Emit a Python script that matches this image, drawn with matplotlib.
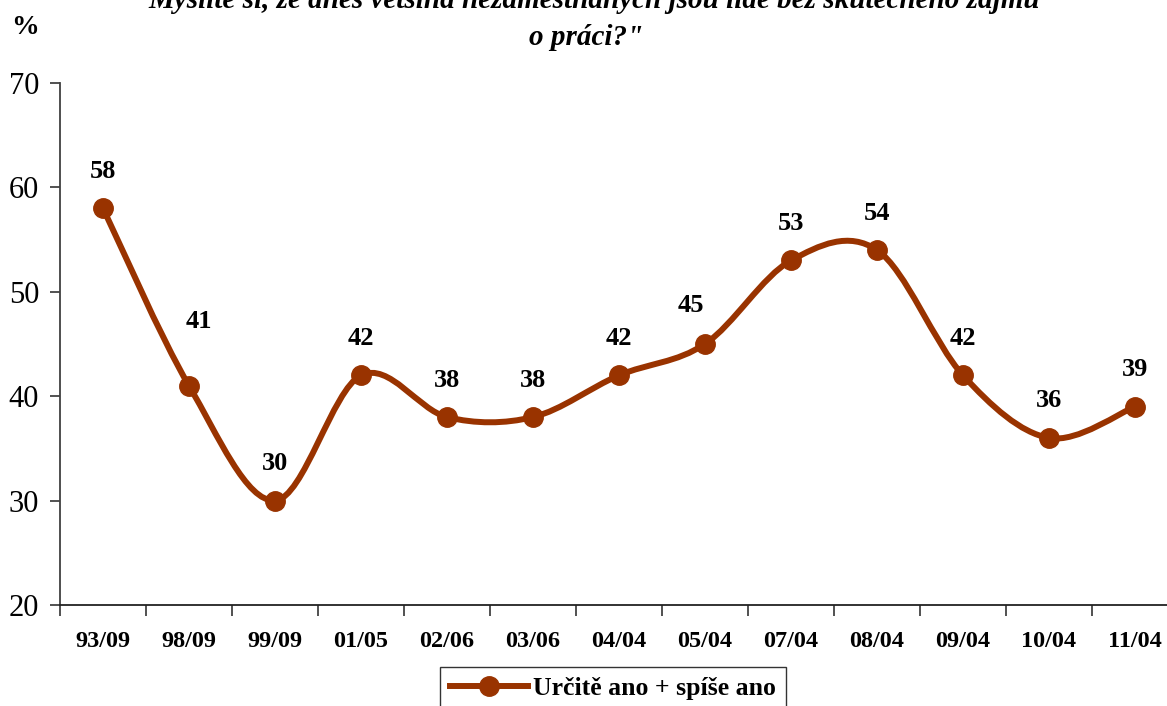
import matplotlib
matplotlib.use("Agg")
import matplotlib.pyplot as plt
from matplotlib.path import Path
from matplotlib.patches import PathPatch
from matplotlib.lines import Line2D

plt.rcParams['font.family'] = ['Liberation Serif', 'DejaVu Serif']

# data
periods = ["93/09", "98/09", "99/09", "01/05", "02/06", "03/06", "04/04",
           "05/04", "07/04", "08/04", "09/04", "10/04", "11/04"]
values = [58, 41, 30, 42, 38, 38, 42, 45, 53, 54, 42, 36, 39]
series_name = "Určitě ano + spíše ano"
title_lines = ["Myslíte si, že dnes většina nezaměstnaných jsou lidé bez skutečného zájmu",
               "o práci?\""]

COLOR = "#993300"
PX = 72 / 100  # pixels -> points

# label offsets in pixels (dx, dy); default is straight above
label_shift = {1: (10, 64), 7: (-14, 39)}


def smooth_path(xs, ys):
    # Excel-like smoothed line: cubic bezier through the points
    n = len(xs)
    verts = [(xs[0], ys[0])]
    codes = [Path.MOVETO]
    for i in range(n - 1):
        x0, y0 = xs[max(i - 1, 0)], ys[max(i - 1, 0)]
        x1, y1 = xs[i], ys[i]
        x2, y2 = xs[i + 1], ys[i + 1]
        x3, y3 = xs[min(i + 2, n - 1)], ys[min(i + 2, n - 1)]
        c1 = (x1 + (x2 - x0) / 6, y1 + (y2 - y0) / 6)
        c2 = (x2 - (x3 - x1) / 6, y2 - (y3 - y1) / 6)
        verts += [c1, c2, (x2, y2)]
        codes += [Path.CURVE4] * 3
    return Path(verts, codes)


fig = plt.figure(figsize=(11.67, 7.06), dpi=100)
ax = fig.add_axes([60 / 1167, 1 - 605 / 706, 1118 / 1167, 522 / 706])

xs = list(range(len(periods)))
ax.add_patch(PathPatch(smooth_path(xs, values), facecolor="none",
                       edgecolor=COLOR, lw=4.3, capstyle="round", joinstyle="round"))
ax.plot(xs, values, linestyle="none", marker="o", markersize=14,
        color=COLOR, zorder=3)

for i, v in enumerate(values):
    dx, dy = label_shift.get(i, (0, 37))
    ax.annotate(str(v), (i, v), xytext=(dx * PX, dy * PX), textcoords="offset points",
                ha="center", va="center", fontsize=19, fontweight="bold")

ax.set_xlim(-0.5, len(periods) - 0.5)
ax.set_ylim(20, 70)
ax.set_yticks([20, 30, 40, 50, 60, 70])
ax.set_xticks(xs)
ax.set_xticklabels(periods, fontweight="bold", fontsize=17.5)
ax.set_xticks([i + 0.5 for i in range(-1, len(periods))], minor=True)
ax.tick_params(axis="x", which="major", length=0, pad=19)
ax.tick_params(axis="x", which="minor", length=8, width=1.2, color="#333333")
ax.tick_params(axis="y", length=7, width=1.2, color="#333333", labelsize=22, pad=8)

for side in ("top", "right"):
    ax.spines[side].set_visible(False)
ax.spines["left"].set_color("#404040")
ax.spines["bottom"].set_color("#222222")
ax.spines["left"].set_linewidth(1.3)
ax.spines["bottom"].set_linewidth(1.3)

fig.text(25 / 1167, 1 - 27 / 706, "%", ha="center", va="center",
         fontsize=20, fontweight="bold")

fig.text(594 / 1167, 1 - 8 / 706, title_lines[0], ha="center", va="baseline",
         fontsize=21, fontweight="bold", style="italic")
fig.text(586 / 1167, 1 - 45 / 706, title_lines[1], ha="center", va="baseline",
         fontsize=21, fontweight="bold", style="italic")

handle = Line2D([], [], color=COLOR, lw=4.3, marker="o", markersize=14)
leg = fig.legend([handle], [series_name], loc="upper center",
                 bbox_to_anchor=(613 / 1167, 1 - 667 / 706), borderaxespad=0,
                 prop={"size": 18.5, "weight": "bold"}, frameon=True, fancybox=False,
                 handlelength=3.0, handletextpad=0.2, borderpad=0.4)
leg.get_frame().set_edgecolor("black")
leg.get_frame().set_linewidth(1.0)

fig.savefig("out.png", dpi=100)
